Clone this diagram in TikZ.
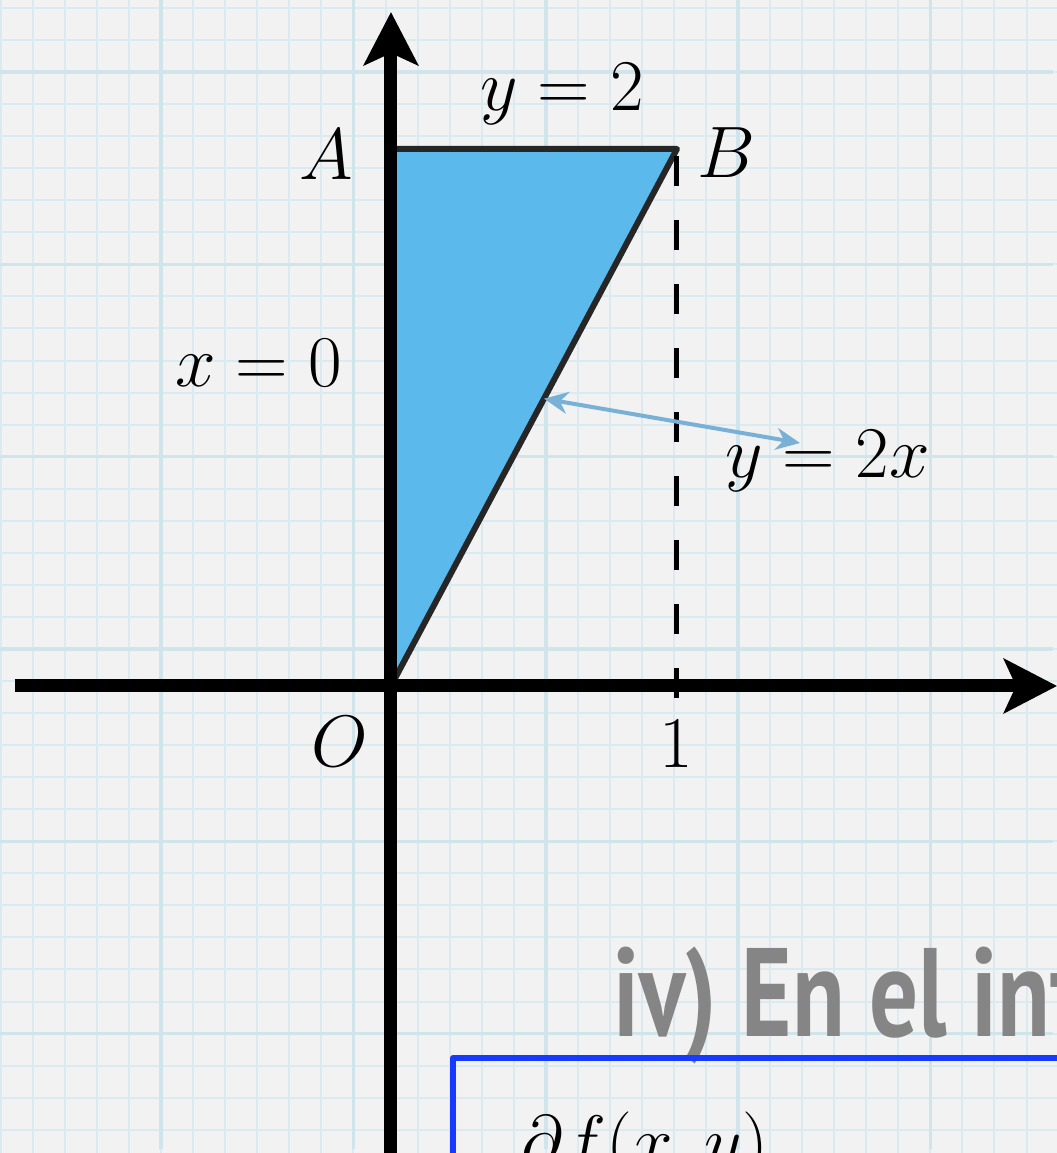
\documentclass[tikz,border=0pt]{standalone}
\usepackage{fontspec}
\newfontfamily\titlefont{PT Sans}
\usetikzlibrary{arrows.meta,calc}
\definecolor{paper}{RGB}{242,242,242}
\definecolor{gridblue}{RGB}{217,234,241}
\definecolor{gridmajor}{RGB}{208,228,236}
\definecolor{regionblue}{RGB}{91,185,236}
\definecolor{edgegray}{RGB}{38,38,38}
\definecolor{pointerblue}{RGB}{120,176,214}
\definecolor{titlegray}{RGB}{133,133,133}
\definecolor{boxblue}{RGB}{22,58,255}
\tikzset{
	axis/.style={line width=0.13cm},
	region/.style={fill=regionblue, draw=edgegray, line width=0.06cm},
	guide/.style={line width=0.05cm, dash pattern=on 0.30cm off 0.34cm, dash phase=0.57cm},
	pointer/.style={color=pointerblue, line width=0.04cm, arrows={Stealth[length=0.24cm,width=0.22cm]-Stealth[length=0.24cm,width=0.22cm]}},
	lab/.style={inner sep=0pt},
	framebox/.style={draw=boxblue, line width=0.06cm}
}
\begin{document}
\begin{tikzpicture}[x=2.86cm, y=2.685cm, >={Stealth[length=0.53cm,width=0.54cm,inset=0.12cm]}, font=\fontsize{20.74}{25}\selectfont, line join=round]
	\def\xmin{-1.367} \def\xmax{2.3287} % khung
	\def\ymin{-1.7393} \def\ymax{2.5549}
	\fill[paper] (\xmin,\ymin) rectangle (\xmax,\ymax);
	\useasboundingbox (\xmin,\ymin) rectangle (\xmax,\ymax);
	\clip (\xmin,\ymin) rectangle (\xmax,\ymax);
	\begin{scope}[x=1cm, y=1cm] % giay ke o
		\draw[gridblue, line width=0.02cm, shift={(-0.0545cm,0.0495cm)}, step=0.3205] (-4.2,-5) grid (7,7.2);
		\draw[gridmajor, line width=0.035cm, shift={(-0.375cm,0.37cm)}, step=1.923] (-4.2,-5) grid (7,7.2);
	\end{scope}
	\coordinate (O) at (0,0);
	\coordinate (A) at (0,2);
	\coordinate (B) at (1,2);
	\coordinate (C) at (1,-0.045);
	\filldraw[region] (O) -- (A) -- (B) -- cycle;
	\draw[axis,->] (-1.315,0) -- (2.329,0);
	\draw[axis,->] (0,-1.8) -- (0,2.51);
	\draw[guide] (B) -- (C);
	\coordinate (P) at ($(O)!0.535!(B)$);
	\coordinate (Q) at (1.43,0.905);
	\draw[pointer] (P) -- (Q);
	\node[lab, anchor=base east] (labA) at (-0.129,1.885) {$A$};
	\node[lab, anchor=base west] (labB) at (1.07,1.892) {$B$};
	\node[lab, anchor=base] (top) at (0.598,2.142) {$y=2$};
	\node[lab, anchor=base] (left) at (-0.463,1.114) {$x=0$};
	\node[lab, anchor=base] (slope) at (1.526,0.775) {$y=2x$};
	\node[lab, anchor=base east] (labO) at (-0.077,-0.298) {$O$};
	\node[lab, anchor=base] (one) at (0.997,-0.305) {$1$};
	\node[lab, anchor=base west, text=titlegray, font=\titlefont\bfseries\fontsize{35.8}{40}\selectfont] (title) at (0.775,-1.307) {\scalebox{0.77}[1]{iv) En el int}};
	\draw[framebox] (0.217,-1.3855) rectangle (2.6,-2.2);
	\node[lab, anchor=base west] (num) at (0.455,-1.788) {$\partial f(x,y)$};
\end{tikzpicture}
\end{document}
